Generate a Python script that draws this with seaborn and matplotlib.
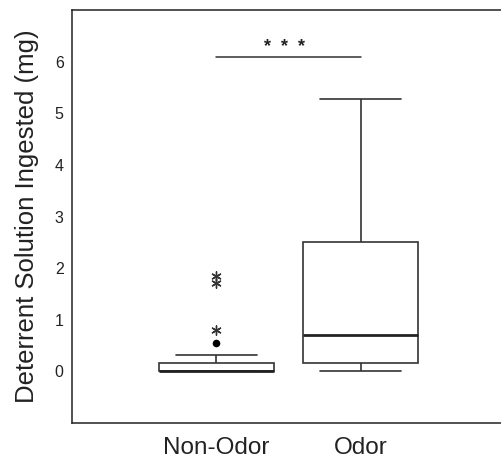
import numpy as np
import pandas as pd
import matplotlib
matplotlib.use("Agg")
import matplotlib.pyplot as plt
import seaborn as sns

categories = ["Non-Odor", "Odor"]
non_odor = [0.0, 0.0, 0.0, 0.0, 0.0, 0.0, 0.0, 0.0, 0.0, 0.01, 0.01,
            0.03, 0.06, 0.09, 0.13, 0.16, 0.32, 0.54, 0.81, 1.72, 1.85]
odor = [0.0, 0.02, 0.05, 0.09, 0.12, 0.155, 0.22, 0.31, 0.42, 0.55, 0.70,
        0.85, 1.05, 1.35, 1.90, 2.51, 2.9, 3.4, 3.9, 4.6, 5.28]
y_ticks = [0, 1, 2, 3, 4, 5, 6]
y_label = "Deterrent Solution Ingested (mg)"
sig_text = "*  *  *"

sns.set_style("white")
plt.rcParams["font.family"] = ["Liberation Sans", "DejaVu Sans"]

df = pd.DataFrame({
    "group": [categories[0]] * len(non_odor) + [categories[1]] * len(odor),
    "value": non_odor + odor,
})

# classify outliers (SPSS style: >1.5 IQR circle, >3 IQR asterisk)
rows = []
for cat, vals in zip(categories, [non_odor, odor]):
    v = np.array(vals)
    q1, q3 = np.percentile(v, [25, 75])
    iqr = q3 - q1
    for val in v:
        if val > q3 + 3 * iqr or val < q1 - 3 * iqr:
            rows.append((cat, val, "extreme"))
        elif val > q3 + 1.5 * iqr or val < q1 - 1.5 * iqr:
            rows.append((cat, val, "outlier"))
out = pd.DataFrame(rows, columns=["group", "value", "kind"])

fig = plt.figure(figsize=(5.02, 4.59), dpi=100)
ax = fig.add_axes([72 / 502, 36 / 459, 1 - 72 / 502, 413 / 459])

line_col = "#333333"
sns.boxplot(data=df, x="group", y="value", order=categories, ax=ax,
            color="white", linecolor=line_col, linewidth=1.2, width=0.8,
            showfliers=False, capwidths=0.56,
            medianprops={"linewidth": 2.0, "color": "#222222"})

ext = out[out["kind"] == "extreme"]
olr = out[out["kind"] == "outlier"]
sns.scatterplot(data=olr, x="group", y="value", ax=ax, marker="o",
                color="black", s=30, edgecolor="black", linewidth=0, zorder=5)
sns.scatterplot(data=ext, x="group", y="value", ax=ax, marker=(6, 2, 0),
                color="#333333", s=45, linewidth=1.0, zorder=5)

ax.set_xlim(-1.0, 1.98)
ax.set_ylim(-1, 7)
ax.set_yticks(y_ticks)
ax.set_yticklabels([str(t) for t in y_ticks], fontsize=11.5, color="#222222")
ax.tick_params(axis="y", length=0, pad=6)
ax.tick_params(axis="x", direction="in", length=3, width=0.8, pad=10,
               labelsize=17.5, colors="#222222")
ax.set_xlabel("")
ax.set_ylabel(y_label, fontsize=18.5, color="#222222", labelpad=11)

for s in ["left", "top", "bottom"]:
    ax.spines[s].set_visible(True)
    ax.spines[s].set_color("#222222")
    ax.spines[s].set_linewidth(1.1)
ax.spines["right"].set_visible(False)

ax.plot([0, 1], [6.08, 6.08], color=line_col, linewidth=1.1)
ax.text(0.47, 6.1, sig_text, ha="center", va="bottom", fontsize=13,
        fontweight="bold", color="#222222")

fig.savefig("out.png", dpi=100)
